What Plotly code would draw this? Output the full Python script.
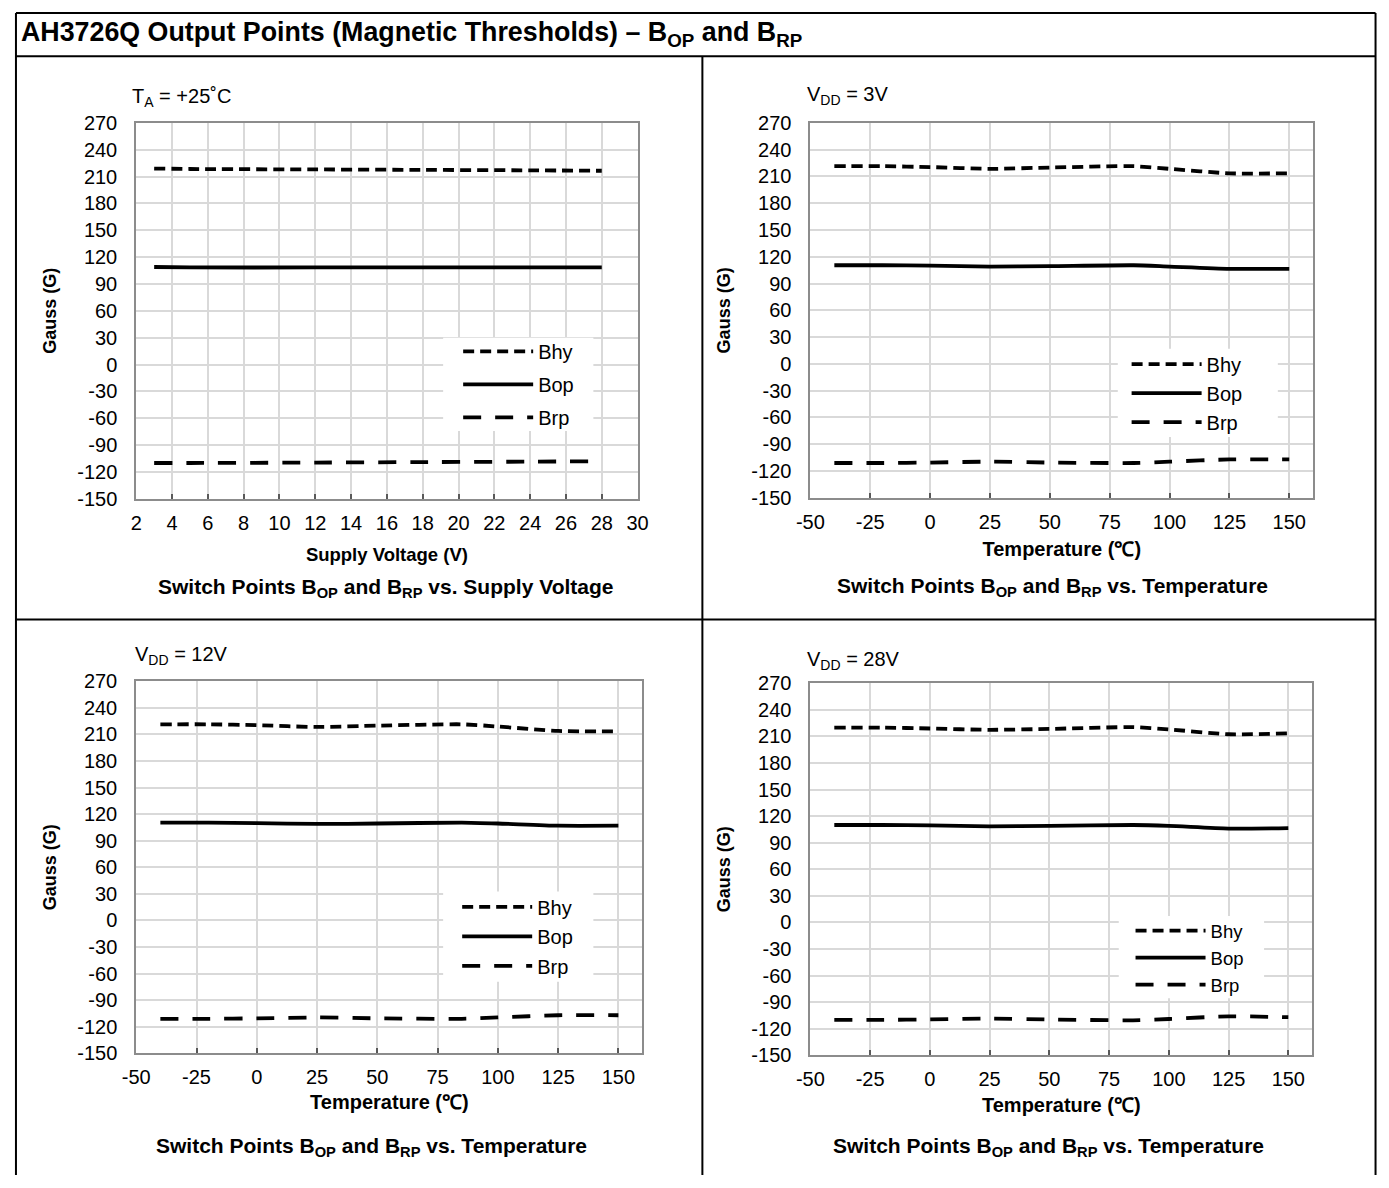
import plotly.graph_objects as go

W, H = 1389, 1188
FONT = "Arial, Liberation Sans, sans-serif"

# ---------------- data ----------------
volt = [3, 5, 12, 18, 24, 28]
v_bop = [109, 108.5, 108.5, 108.5, 108.5, 108.5]
v_brp = [-110, -110, -109.5, -109, -108.5, -108]
v_bhy = [219, 218.5, 218, 217.5, 217, 216.5]

temp = [-40, -20, 0, 25, 50, 85, 100, 125, 150]
t3_bop = [110.5, 110.5, 110, 109, 109.5, 110.5, 109, 106.5, 106.5]
t3_brp = [-111, -111, -110.5, -109.5, -110.5, -111, -109.5, -107, -107]
t3_bhy = [221.5, 221.5, 220.5, 218.5, 220, 221.5, 218.5, 213.5, 213.5]

t12_bop = [110.5, 110.5, 110, 109, 109.5, 110.5, 109.5, 107, 107]
t12_brp = [-111, -111, -110.5, -109.5, -110.5, -111, -109.5, -107, -107]
t12_bhy = [221.5, 221.5, 220.5, 218.5, 220, 221.5, 219, 214, 213.5]

t28_bop = [110, 110, 109.5, 108.5, 109, 110, 109, 106, 106.5]
t28_brp = [-110, -110, -109.5, -108.5, -109.5, -110.5, -109, -106, -107]
t28_bhy = [220, 220, 219, 217.5, 218.5, 220.5, 218, 212.5, 213.5]

y_ticks = [270, 240, 210, 180, 150, 120, 90, 60, 30, 0, -30, -60, -90, -120, -150]
y_ticktext = [str(v) for v in y_ticks]
volt_ticks = [2, 4, 6, 8, 10, 12, 14, 16, 18, 20, 22, 24, 26, 28, 30]
temp_ticks = [-50, -25, 0, 25, 50, 75, 100, 125, 150]
y_range = [-150, 270]
series_names = ["Bhy", "Bop", "Brp"]

fig = go.Figure()

dash_styles = {"Bhy": "11px,6px", "Bop": "solid", "Brp": "18px,14px"}


def add_panel(idx, x, series):
    xa = "x" if idx == 1 else f"x{idx}"
    ya = "y" if idx == 1 else f"y{idx}"
    leg = "legend" if idx == 1 else f"legend{idx}"
    for name, vals in zip(series_names, series):
        fig.add_trace(go.Scatter(
            x=x, y=vals, name=name, mode="lines",
            line=dict(color="black", width=3.8, dash=dash_styles[name],
                      shape="spline", smoothing=0.6),
            xaxis=xa, yaxis=ya, legend=leg, legendgroup=f"{idx}{name}",
            showlegend=True,
        ))


add_panel(1, volt, [v_bhy, v_bop, v_brp])
add_panel(2, temp, [t3_bhy, t3_bop, t3_brp])
add_panel(3, temp, [t12_bhy, t12_bop, t12_brp])
add_panel(4, temp, [t28_bhy, t28_bop, t28_brp])


def px_x(p):
    return p / W


def px_y(p):
    return 1 - p / H


panels = {
    1: dict(x=(124.5, 635), y=(114, 497), xr=[2, 30], ticks=volt_ticks,
            xtitle="Supply Voltage (V)", xsize=18.5, xstand=15,
            legend=(452.3, 327, 4, 20), legbox=(437, 590, 333, 428)),
    2: dict(x=(811, 1323), y=(114, 496), xr=[-50, 160], ticks=temp_ticks,
            xtitle="Temperature (\u2103)", xsize=20, xstand=10,
            legend=(1133, 340, 0, 20), legbox=(1124, 1287, 344, 434)),
    3: dict(x=(124.5, 640), y=(683, 1062), xr=[-50, 160], ticks=temp_ticks,
            xtitle="Temperature (\u2103)", xsize=20, xstand=8,
            legend=(451.3, 893, 0.5, 20), legbox=(437, 590, 897, 989)),
    4: dict(x=(811, 1322), y=(685, 1064), xr=[-50, 160], ticks=temp_ticks,
            xtitle="Temperature (\u2103)", xsize=20, xstand=9,
            legend=(1137, 918, 0, 18.5), legbox=(1125, 1273, 922, 1006)),
}

axis_common = dict(
    showgrid=True, gridcolor="#d9d9d9", gridwidth=1.5,
    showline=True, linecolor="#8c8c8c", linewidth=2, mirror=True,
    zeroline=False, tickfont=dict(family=FONT, size=20, color="black"),
    fixedrange=True,
)

layout_axes = {}
legends = {}
legend_boxes = []
for i, p in panels.items():
    xk = "xaxis" if i == 1 else f"xaxis{i}"
    yk = "yaxis" if i == 1 else f"yaxis{i}"
    ya = "y" if i == 1 else f"y{i}"
    xa = "x" if i == 1 else f"x{i}"
    layout_axes[xk] = dict(
        axis_common, domain=[px_x(p["x"][0]), px_x(p["x"][1])],
        range=p["xr"], tickmode="array", tickvals=p["ticks"],
        ticktext=[str(v) for v in p["ticks"]], anchor=ya,
        ticks="inside", ticklen=5, tickcolor="#595959", tickwidth=1.5,
        ticklabelstandoff=5,
        title=dict(text=p["xtitle"], standoff=p["xstand"],
                   font=dict(family=FONT, size=p["xsize"], color="black", weight="bold")),
    )
    layout_axes[yk] = dict(
        axis_common, domain=[px_y(p["y"][1]), px_y(p["y"][0])],
        range=y_range, tickmode="array", tickvals=y_ticks, ticktext=y_ticktext,
        anchor=xa, ticks="", ticklabelstandoff=13,
        title=dict(text="Gauss (G)", standoff=16,
                   font=dict(family=FONT, size=18, color="black", weight="bold")),
    )
    lx, ly, gap, lsize = p["legend"]
    key = "legend" if i == 1 else f"legend{i}"
    legends[key] = dict(
        x=px_x(lx), y=px_y(ly), xanchor="left", yanchor="top",
        bgcolor="rgba(0,0,0,0)", borderwidth=0, itemwidth=70,
        font=dict(family=FONT, size=lsize, color="black"),
        tracegroupgap=gap, traceorder="grouped",
    )
    # white legend area hiding the gridlines (Excel-style legend box),
    # converted from pixel extents to the panel's axis units
    bx0, bx1, by0, by1 = p["legbox"]
    (px0, px1), (py0, py1) = p["x"], p["y"]
    xr0, xr1 = p["xr"]
    yr0, yr1 = y_range
    fx = lambda v: xr0 + (v - px0) / (px1 - px0) * (xr1 - xr0)
    fy = lambda v: yr1 - (v - py0) / (py1 - py0) * (yr1 - yr0)
    legend_boxes.append(dict(
        type="rect", xref=xa, yref=ya, layer="between",
        x0=fx(bx0), x1=fx(bx1), y0=fy(by1), y1=fy(by0),
        fillcolor="white", line=dict(width=0),
    ))

# table frame (kept just inside the page edges)
ln = dict(color="black", width=2)
L, R, T, B = 2, 1386.5, 2, 1186
borders = [
    dict(type="line", x0=px_x(L), x1=px_x(R), y0=px_y(T), y1=px_y(T), line=ln),
    dict(type="line", x0=px_x(L), x1=px_x(L), y0=px_y(B), y1=px_y(T), line=ln),
    dict(type="line", x0=px_x(R), x1=px_x(R), y0=px_y(B), y1=px_y(T), line=ln),
    dict(type="line", x0=px_x(L), x1=px_x(R), y0=px_y(46), y1=px_y(46), line=ln),
    dict(type="line", x0=px_x(L), x1=px_x(R), y0=px_y(620), y1=px_y(620), line=ln),
    dict(type="line", x0=px_x(701), x1=px_x(701), y0=px_y(B), y1=px_y(46), line=ln),
]
for s in borders:
    s.update(xref="paper", yref="paper", layer="above")
shapes = legend_boxes + borders

ann_font = dict(family=FONT, size=20, color="black")
cap_font = dict(family=FONT, size=21, color="black", weight="bold")
cap_t = "Switch Points B<sub>OP</sub> and B<sub>RP</sub> vs. Temperature"
annotations = [
    dict(text="AH3726Q Output Points (Magnetic Thresholds) \u2013 B<sub>OP</sub> and B<sub>RP</sub>",
         x=px_x(5), y=px_y(23), xanchor="left", yanchor="middle",
         font=dict(family=FONT, size=26.8, color="black", weight="bold")),
    dict(text="T<sub>A</sub> = +25\u02daC", x=px_x(118), y=px_y(88), xanchor="left", yanchor="middle", font=ann_font),
    dict(text="V<sub>DD</sub> = 3V", x=px_x(805), y=px_y(86), xanchor="left", yanchor="middle", font=ann_font),
    dict(text="V<sub>DD</sub> = 12V", x=px_x(121), y=px_y(657), xanchor="left", yanchor="middle", font=ann_font),
    dict(text="V<sub>DD</sub> = 28V", x=px_x(805), y=px_y(662), xanchor="left", yanchor="middle", font=ann_font),
    dict(text="Switch Points B<sub>OP</sub> and B<sub>RP</sub> vs. Supply Voltage",
         x=px_x(379), y=px_y(588), xanchor="center", yanchor="middle", font=cap_font),
    dict(text=cap_t, x=px_x(1058), y=px_y(587), xanchor="center", yanchor="middle", font=cap_font),
    dict(text=cap_t, x=px_x(364), y=px_y(1157), xanchor="center", yanchor="middle", font=cap_font),
    dict(text=cap_t, x=px_x(1053), y=px_y(1157), xanchor="center", yanchor="middle", font=cap_font),
]
for a in annotations:
    a.update(xref="paper", yref="paper", showarrow=False)

fig.update_layout(
    width=W, height=H, margin=dict(l=0, r=0, t=0, b=0),
    paper_bgcolor="white", plot_bgcolor="white",
    font=dict(family=FONT, size=20, color="black"),
    shapes=shapes, annotations=annotations,
    **layout_axes, **legends,
)

fig.write_html(
    "out.html",
    config={"displayModeBar": False},
    post_script="document.body.style.margin='0';document.body.style.padding='0';"
                "document.documentElement.style.overflow='hidden';",
)
